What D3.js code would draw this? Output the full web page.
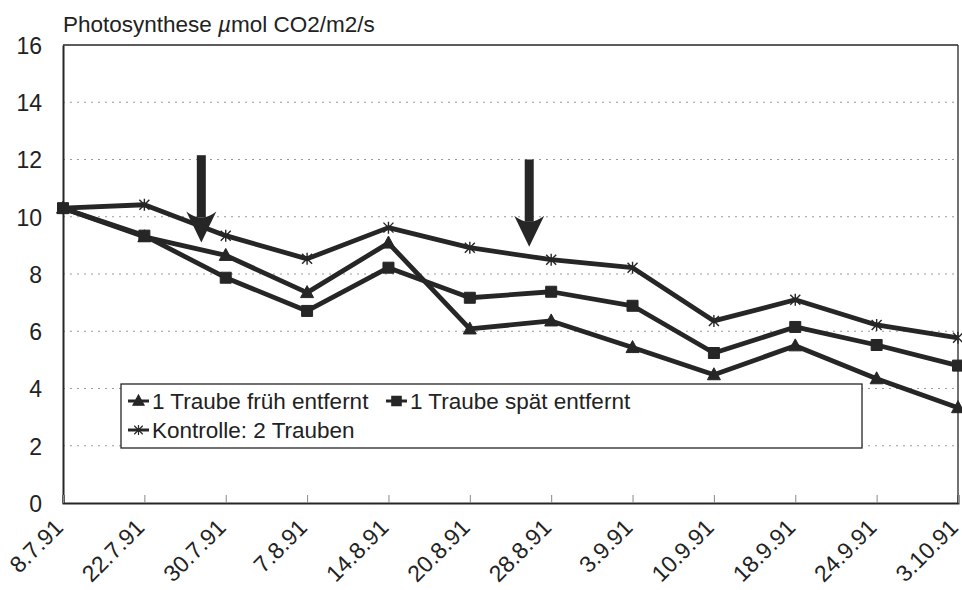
<!DOCTYPE html>
<html lang="de">
  <head>
    <meta charset="UTF-8" />
    <title>Photosynthese</title>
    <script src="https://d3js.org/d3.v7.min.js"></script>
    <style>
      body { margin: 0; background: #fff; }
      text { font-family: "Liberation Sans", Arial, sans-serif; fill: #222; }
    </style>
  </head>
  <body>
    <svg id="chart" width="962" height="590"></svg>
    <script>
      // data
      const dates = ["8.7.91", "22.7.91", "30.7.91", "7.8.91", "14.8.91", "20.8.91",
        "28.8.91", "3.9.91", "10.9.91", "18.9.91", "24.9.91", "3.10.91"];
      const frueh = [10.3, 9.3, 8.65, 7.35, 9.08, 6.08, 6.36, 5.43, 4.48, 5.49, 4.34, 3.33];
      const spaet = [10.3, 9.34, 7.87, 6.71, 8.22, 7.17, 7.38, 6.89, 5.24, 6.15, 5.52, 4.8];
      const kontrolle = [10.3, 10.42, 9.34, 8.53, 9.62, 8.92, 8.5, 8.22, 6.36, 7.1, 6.22, 5.77];
      const yTicks = [0, 2, 4, 6, 8, 10, 12, 14, 16];
      // arrows: position between dates (index), top and tip value
      const arrows = [
        { pos: 1.7, top: 12.15, tip: 9.1 },
        { pos: 5.73, top: 12.0, tip: 8.95 }
      ];

      const svg = d3.select("#chart");
      const margin = { top: 45, right: 4, bottom: 87, left: 63 };
      const W = 962, H = 590;
      const x = d3.scaleLinear().domain([0, dates.length - 1]).range([margin.left, W - margin.right]);
      const y = d3.scaleLinear().domain([0, 16]).range([H - margin.bottom, margin.top]);
      const ink = "#262626";

      // dotted grid
      svg.append("g")
        .selectAll("line")
        .data(yTicks.filter(d => d > 0 && d < 16))
        .join("line")
        .attr("x1", x(0)).attr("x2", x(11))
        .attr("y1", d => y(d)).attr("y2", d => y(d))
        .attr("stroke", "#999").attr("stroke-width", 1.2)
        .attr("stroke-dasharray", "2,5");

      // frame top and right
      svg.append("line").attr("x1", x(0)).attr("x2", x(11)).attr("y1", y(16)).attr("y2", y(16))
        .attr("stroke", ink).attr("stroke-width", 1.3);
      svg.append("line").attr("x1", x(11)).attr("x2", x(11)).attr("y1", y(16)).attr("y2", y(0))
        .attr("stroke", ink).attr("stroke-width", 1.3);

      // y axis
      const yAxis = svg.append("g")
        .attr("transform", `translate(${margin.left},0)`)
        .call(d3.axisLeft(y).tickValues(yTicks).tickSize(0).tickPadding(21));
      yAxis.select(".domain").attr("stroke", ink).attr("stroke-width", 2);
      yAxis.selectAll("text").style("font-size", "23px").attr("fill", ink).attr("dy", "0.36em");

      // x axis
      const xAxis = svg.append("g")
        .attr("transform", `translate(0,${y(0)})`)
        .call(d3.axisBottom(x).tickValues(d3.range(dates.length)).tickFormat(i => dates[i]).tickSize(-8));
      xAxis.select(".domain").attr("stroke", ink).attr("stroke-width", 2);
      xAxis.selectAll(".tick line").attr("stroke", "#888");
      xAxis.selectAll("text")
        .style("font-size", "23px")
        .attr("fill", ink)
        .style("text-anchor", "end")
        .attr("x", 0).attr("y", 0)
        .attr("dx", 0).attr("dy", 0)
        .attr("transform", "translate(1,26) rotate(-45)");

      // title
      svg.append("text")
        .attr("x", margin.left).attr("y", 32)
        .style("font-size", "22.5px")
        .html('Photosynthese <tspan font-style="italic">µ</tspan>mol CO2/m2/s');

      // markers
      const markers = {
        tri: "M0,-7L6.5,5L-6.5,5Z",
        sq: "M-5.5,-5.5H5.5V5.5H-5.5Z",
        star: "M-5,-5L5,5M-5,5L5,-5M0,-6V6"
      };
      const series = [
        { name: "1 Traube früh entfernt", values: frueh, marker: "tri" },
        { name: "1 Traube spät entfernt", values: spaet, marker: "sq" },
        { name: "Kontrolle: 2 Trauben", values: kontrolle, marker: "star" }
      ];
      const line = d3.line().x((d, i) => x(i)).y(d => y(d));

      series.forEach(s => {
        svg.append("path")
          .datum(s.values)
          .attr("d", line)
          .attr("fill", "none")
          .attr("stroke", ink)
          .attr("stroke-width", 4.8)
          .attr("stroke-linejoin", "round");
        svg.append("g").selectAll("path")
          .data(s.values)
          .join("path")
          .attr("transform", (d, i) => `translate(${x(i)},${y(d)})`)
          .attr("d", markers[s.marker])
          .attr("fill", ink)
          .attr("stroke", ink)
          .attr("stroke-width", s.marker === "star" ? 1.4 : 1);
      });

      // arrows
      arrows.forEach(a => {
        const ax = x(a.pos), yTop = y(a.top), yTip = y(a.tip);
        const headH = 31;
        svg.append("rect")
          .attr("x", ax - 4.5).attr("y", yTop)
          .attr("width", 9).attr("height", yTip - headH - yTop + 6)
          .attr("fill", ink);
        svg.append("path")
          .attr("d", `M${ax - 15},${yTip - headH} Q${ax},${yTip - headH + 12} ${ax + 15},${yTip - headH} L${ax},${yTip} Z`)
          .attr("fill", ink);
      });

      // legend
      const lg = svg.append("g");
      lg.append("rect")
        .attr("x", 121).attr("y", 384).attr("width", 741).attr("height", 64)
        .attr("fill", "#fff").attr("stroke", ink).attr("stroke-width", 1.3);
      const legendPos = [
        { x: 128, y: 401 },
        { x: 386, y: 401 },
        { x: 128, y: 430 }
      ];
      series.forEach((s, i) => {
        const p = legendPos[i];
        lg.append("line")
          .attr("x1", p.x).attr("x2", p.x + 21).attr("y1", p.y).attr("y2", p.y)
          .attr("stroke", ink).attr("stroke-width", 3);
        lg.append("path")
          .attr("transform", `translate(${p.x + 10.5},${p.y}) scale(0.85)`)
          .attr("d", markers[s.marker])
          .attr("fill", ink).attr("stroke", ink).attr("stroke-width", 1.4);
        lg.append("text")
          .attr("x", p.x + 24).attr("y", p.y + 7.5)
          .style("font-size", "22.5px")
          .text(s.name);
      });
    </script>
  </body>
</html>
